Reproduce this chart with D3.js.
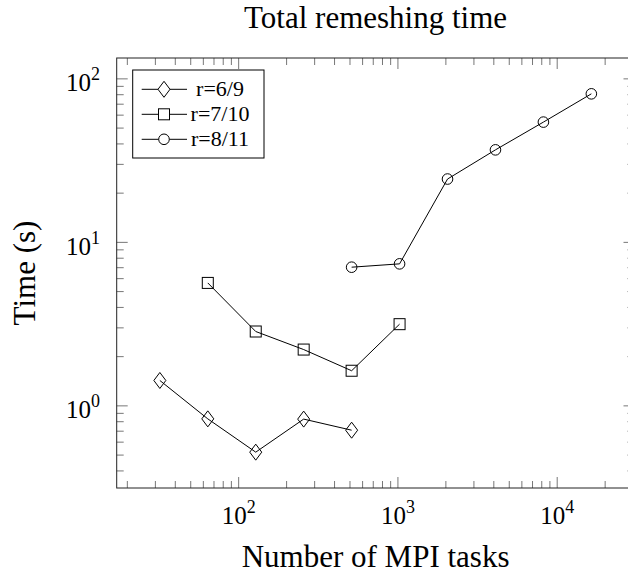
<!DOCTYPE html>
<html>
<head>
<meta charset="utf-8">
<script src="https://cdn.jsdelivr.net/npm/d3@7"></script>
<style>
  body { margin: 0; background: #fff; }
  svg { display: block; font-family: 'Liberation Serif', 'Times New Roman', serif; }
</style>
</head>
<body>
<div id="chart"></div>
<script>
// series data
let seriesNames = ['r=6/9', 'r=7/10', 'r=8/11']
let seriesMarks = ['diamond', 'square', 'circle']
let tasks69 = [32, 64, 128, 256, 512]
let time69 = [1.43, 0.833, 0.521, 0.83, 0.71]
let tasks710 = [64, 128, 256, 512, 1024]
let time710 = [5.65, 2.85, 2.21, 1.64, 3.16]
let tasks811 = [512, 1024, 2048, 4096, 8192, 16384]
let time811 = [7.05, 7.39, 24.4, 36.8, 54.4, 81]
let xMajor = [2, 3, 4]   // exponents labelled on x
let yMajor = [0, 1, 2]   // exponents labelled on y

let allTasks = [tasks69, tasks710, tasks811]
let allTimes = [time69, time710, time811]

var width = 628
var height = 577
var plotL = 116.7, plotR = 634.5, plotT = 58, plotB = 488
var midX = (plotL + plotR) / 2

// enlarge log limits by 10% like pgfplots does
function logDomain (vals) {
  let lo = Math.log10(d3.min(vals)), hi = Math.log10(d3.max(vals))
  let pad = (hi - lo) * 0.1
  return [Math.pow(10, lo - pad), Math.pow(10, hi + pad)]
}

var x = d3.scaleLog()
  .domain(logDomain([].concat(...allTasks)))
  .range([plotL, plotR])
var y = d3.scaleLog()
  .domain(logDomain([].concat(...allTimes)))
  .range([plotB, plotT])

var svg = d3.select('#chart')
  .append('svg')
  .attr('width', width)
  .attr('height', height)

// minor + major tick values inside the domain
function tickList (scale) {
  let d = scale.domain()
  let out = []
  for (let e = Math.floor(Math.log10(d[0])); e <= Math.ceil(Math.log10(d[1])); e++) {
    for (let m = 1; m < 10; m++) {
      let v = m * Math.pow(10, e)
      if (v >= d[0] && v <= d[1]) out.push({ v: v, major: m === 1 })
    }
  }
  return out
}

var tickColor = '#777'
var xt = tickList(x)
var yt = tickList(y)

// ticks, pointing inward on all four sides
var tg = svg.append('g').attr('stroke', tickColor).attr('stroke-width', 1)
tg.selectAll('line.xb').data(xt).enter().append('line')
  .attr('x1', d => x(d.v)).attr('x2', d => x(d.v))
  .attr('y1', plotB).attr('y2', d => plotB - (d.major ? 11 : 7))
tg.selectAll('line.xt').data(xt).enter().append('line')
  .attr('x1', d => x(d.v)).attr('x2', d => x(d.v))
  .attr('y1', plotT).attr('y2', d => plotT + (d.major ? 11 : 7))
tg.selectAll('line.yl').data(yt).enter().append('line')
  .attr('y1', d => y(d.v)).attr('y2', d => y(d.v))
  .attr('x1', plotL).attr('x2', d => plotL + (d.major ? 11 : 7))
tg.selectAll('line.yr').data(yt).enter().append('line')
  .attr('y1', d => y(d.v)).attr('y2', d => y(d.v))
  .attr('x1', plotR).attr('x2', d => plotR - (d.major ? 11 : 7))

// frame
svg.append('rect')
  .attr('x', plotL).attr('y', plotT)
  .attr('width', plotR - plotL).attr('height', plotB - plotT)
  .attr('fill', 'none').attr('stroke', '#222').attr('stroke-width', 1)

// tick labels 10^n
var yl = svg.selectAll('text.ylab').data(yMajor).enter().append('text')
  .attr('x', 100).attr('y', d => y(Math.pow(10, d)) + 12.5)
  .attr('text-anchor', 'end').attr('font-size', 25)
yl.append('tspan').text('10')
yl.append('tspan').attr('dy', -11).attr('font-size', 18).text(d => d)

var xl = svg.selectAll('text.xlab').data(xMajor).enter().append('text')
  .attr('x', d => x(Math.pow(10, d))).attr('y', 524)
  .attr('text-anchor', 'middle').attr('font-size', 25)
xl.append('tspan').text('10')
xl.append('tspan').attr('dy', -11).attr('font-size', 18).text(d => d)

// titles
svg.append('text')
  .attr('x', midX).attr('y', 28)
  .attr('text-anchor', 'middle').attr('font-size', 31)
  .text('Total remeshing time')
svg.append('text')
  .attr('x', midX).attr('y', 567)
  .attr('text-anchor', 'middle').attr('font-size', 31)
  .text('Number of MPI tasks')
svg.append('text')
  .attr('transform', 'translate(35,' + (plotT + plotB) / 2 + ') rotate(-90)')
  .attr('text-anchor', 'middle').attr('font-size', 31)
  .text('Time (s)')

// marker shapes
function drawMark (g, kind) {
  if (kind === 'diamond') {
    g.append('path').attr('d', 'M0,-8L6,0L0,8L-6,0Z')
  } else if (kind === 'square') {
    g.append('rect').attr('x', -5.5).attr('y', -5.5).attr('width', 11).attr('height', 11)
  } else {
    g.append('circle').attr('r', 5.3)
  }
}

var line = d3.line()
  .x(d => x(d[0]))
  .y(d => y(d[1]))

for (let s = 0; s < allTasks.length; s++) {
  let pts = allTasks[s].map((t, i) => [t, allTimes[s][i]])
  svg.append('path')
    .datum(pts)
    .attr('d', line)
    .attr('fill', 'none').attr('stroke', '#000').attr('stroke-width', 1)
  let mg = svg.append('g').attr('fill', 'none').attr('stroke', '#000').attr('stroke-width', 1)
  pts.forEach(p => {
    let g = mg.append('g').attr('transform', 'translate(' + x(p[0]) + ',' + y(p[1]) + ')')
    drawMark(g, seriesMarks[s])
  })
}

// legend
var lg = svg.append('g')
lg.append('rect')
  .attr('x', 132.7).attr('y', 70).attr('width', 131.3).attr('height', 88)
  .attr('fill', '#fff').attr('stroke', '#000').attr('stroke-width', 1)
seriesNames.forEach((name, i) => {
  let ly = 89.3 + i * 25
  lg.append('line')
    .attr('x1', 141.7).attr('x2', 187).attr('y1', ly).attr('y2', ly)
    .attr('stroke', '#000').attr('stroke-width', 1)
  let g = lg.append('g').attr('transform', 'translate(164,' + ly + ')')
    .attr('fill', '#fff').attr('stroke', '#000').attr('stroke-width', 1)
  drawMark(g, seriesMarks[i])
  lg.append('text')
    .attr('x', 220).attr('y', ly + 7)
    .attr('text-anchor', 'middle').attr('font-size', 22)
    .text(name)
})
</script>
</body>
</html>
